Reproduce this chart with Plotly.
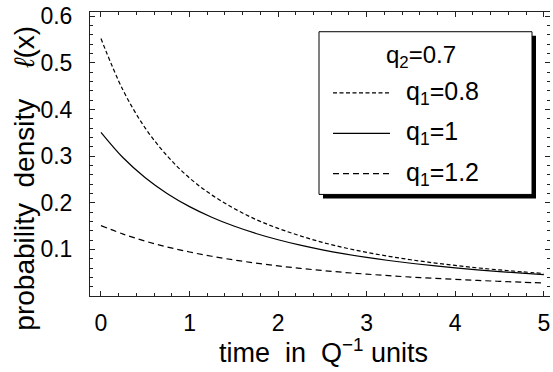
import plotly.graph_objects as go

# ---- data ----
t_vals = [0, 0.25, 0.5, 0.75, 1.0, 1.25, 1.5, 1.75, 2.0, 2.25, 2.5,
          2.75, 3.0, 3.25, 3.5, 3.75, 4.0, 4.25, 4.5, 4.75, 5.0]
dens_q1_08 = [0.552, 0.441, 0.360, 0.300, 0.253, 0.217, 0.188, 0.164, 0.145, 0.129, 0.115,
              0.1035, 0.0936, 0.0851, 0.0777, 0.0712, 0.0655, 0.0604, 0.0559, 0.0519, 0.0483]
dens_q1_10 = [0.351, 0.2964, 0.2536, 0.2194, 0.1917, 0.169, 0.150, 0.1341, 0.1206, 0.109, 0.099,
              0.0904, 0.0828, 0.0761, 0.0702, 0.065, 0.0603, 0.0561, 0.0524, 0.049, 0.0459]
dens_q1_12 = [0.151, 0.1328, 0.1177, 0.105, 0.0944, 0.0852, 0.0773, 0.0705, 0.0645, 0.0593, 0.0546,
              0.0505, 0.0469, 0.0436, 0.0406, 0.038, 0.0356, 0.0334, 0.0314, 0.0296, 0.0279]
x_ticks = [0, 1, 2, 3, 4, 5]
y_ticks = [0.1, 0.2, 0.3, 0.4, 0.5, 0.6]
y_tick_labels = ["0.1", "0.2", "0.3", "0.4", "0.5", "0.6"]
legend_title = "q<sub>2</sub>=0.7"
series_names = ["q<sub>1</sub>=0.8", "q<sub>1</sub>=1", "q<sub>1</sub>=1.2"]
series_dash = ["4px,2.5px", "solid", "6px,4px"]

FONT = "Liberation Sans, Arial, sans-serif"
FS = 23
W, H = 553, 372
L, R, T, B = 90, 3, 8, 76
pw, ph = W - L - R, H - T - B
NB = "\u00a0"

fig = go.Figure()
for ys, nm, ds in zip([dens_q1_08, dens_q1_10, dens_q1_12], series_names, series_dash):
    fig.add_trace(go.Scatter(x=t_vals, y=ys, mode="lines", name=nm, line_shape="spline",
                             line=dict(color="black", width=1.2, dash=ds), showlegend=False))
# dummy trace to carry the right-hand tick axis
fig.add_trace(go.Scatter(x=[0], y=[0], mode="none", yaxis="y2", showlegend=False, hoverinfo="skip"))

tickcol = "#222"
fig.update_layout(
    width=W, height=H, margin=dict(l=L, r=R, t=T, b=B),
    paper_bgcolor="white", plot_bgcolor="white",
    font=dict(family=FONT, size=FS, color="black"),
    xaxis=dict(range=[-0.124, 5.07], tickvals=x_ticks, ticks="inside", ticklen=5, tickwidth=1,
               tickcolor=tickcol, showline=True, linecolor=tickcol, linewidth=1, mirror="ticks",
               showgrid=False, zeroline=False, ticklabelstandoff=6, ticklabeloverflow="allow",
               minor=dict(dtick=0.2, tick0=0, ticks="inside", ticklen=3, tickcolor=tickcol, showgrid=False),
               tickfont=dict(size=FS)),
    yaxis=dict(range=[0.0, 0.609], tickvals=y_ticks, ticktext=y_tick_labels, ticks="inside",
               ticklen=5, tickwidth=1, tickcolor=tickcol, showline=True, linecolor=tickcol,
               linewidth=1, mirror=False, showgrid=False, zeroline=False, ticklabelstandoff=12,
               ticklabeloverflow="allow",
               minor=dict(dtick=0.02, tick0=0, ticks="inside", ticklen=3, tickcolor=tickcol, showgrid=False),
               tickfont=dict(size=FS)),
    yaxis2=dict(range=[0.0, 0.609], overlaying="y", side="right", tickvals=y_ticks,
                showticklabels=False, ticks="inside", ticklen=5, tickcolor=tickcol,
                showline=False, showgrid=False, zeroline=False,
                minor=dict(dtick=0.02, tick0=0, ticks="inside", ticklen=3, tickcolor=tickcol, showgrid=False)),
    showlegend=False,
)

def px_x(p):
    return (p - L) / pw

def px_y(p):
    return (H - B - p) / ph

# axis titles
fig.add_annotation(text=f"time{NB}{NB}in{NB}{NB}Q<sup>\u22121</sup>{NB}units", xref="paper", yref="paper",
                   x=px_x(323), y=px_y(352), xanchor="center", yanchor="middle",
                   showarrow=False, font=dict(size=27))
fig.add_annotation(text=f"probability{NB}{NB}density{NB}{NB}{NB}{NB}<i>\u2113</i>(x)", xref="paper",
                   yref="paper", x=px_x(25), y=px_y(177), xanchor="center", yanchor="middle",
                   textangle=-90, showarrow=False, font=dict(size=28))

# legend box with shadow
bx0, by0, bx1, by1 = 319, 28, 532, 193
fig.add_shape(type="rect", xref="paper", yref="paper",
              x0=px_x(bx0 + 4), x1=px_x(bx1 + 4), y0=px_y(by1 + 4), y1=px_y(by0 + 4),
              fillcolor="black", line=dict(width=0))
fig.add_shape(type="rect", xref="paper", yref="paper",
              x0=px_x(bx0), x1=px_x(bx1), y0=px_y(by1), y1=px_y(by0),
              fillcolor="white", line=dict(color="black", width=1))
fig.add_annotation(text=legend_title, xref="paper", yref="paper", x=px_x(421), y=px_y(53),
                   xanchor="center", yanchor="middle", showarrow=False, font=dict(size=24))
rows = [90, 131, 172]
for ry, nm, ds in zip(rows, series_names, series_dash):
    fig.add_shape(type="line", xref="paper", yref="paper", x0=px_x(333), x1=px_x(390),
                  y0=px_y(ry), y1=px_y(ry), line=dict(color="black", width=1.2, dash=ds))
    fig.add_annotation(text=nm, xref="paper", yref="paper", x=px_x(404), y=px_y(ry),
                       xanchor="left", yanchor="middle", showarrow=False, font=dict(size=25))

fig.write_html("out.html", config={"displayModeBar": False},
               post_script="document.body.style.margin='0';")
